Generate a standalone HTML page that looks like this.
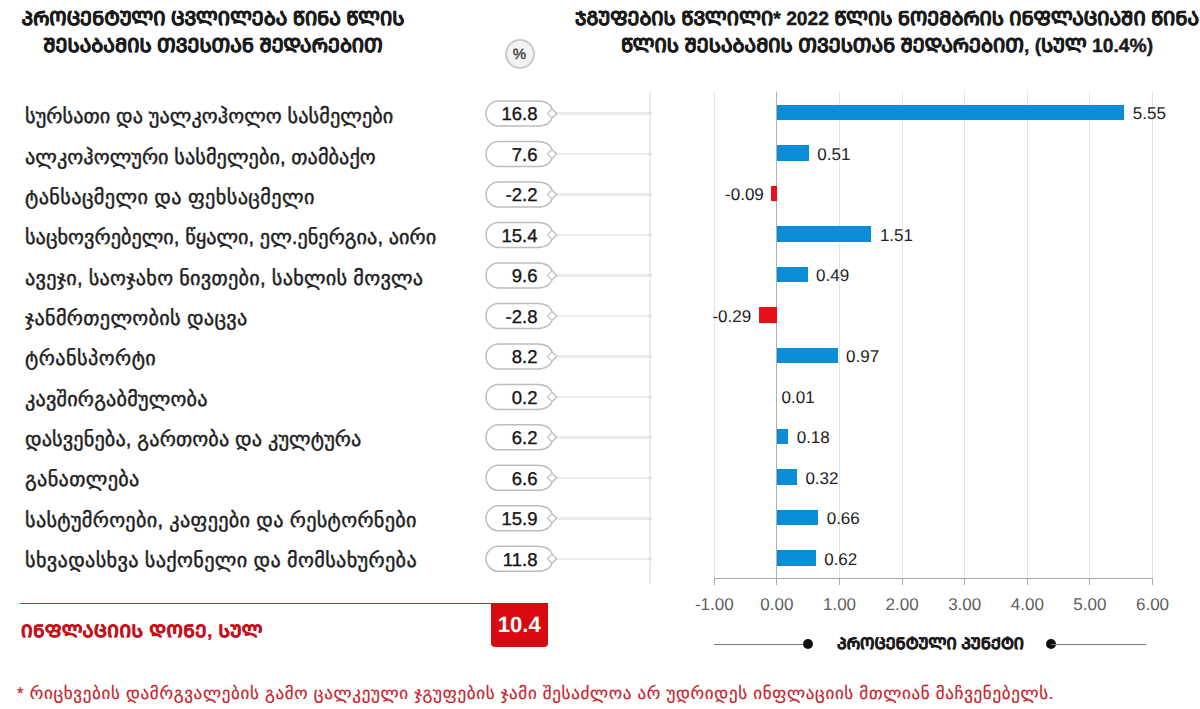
<!DOCTYPE html>
<html><head><meta charset="utf-8"><style>
html,body{margin:0;padding:0;background:#fff;text-rendering:geometricPrecision;width:1200px;height:709px;overflow:hidden;position:relative;font-family:"Liberation Sans",sans-serif;color:#222}
.abs{position:absolute;white-space:nowrap}
.t{font-weight:bold;font-size:19.25px;color:#1a1a1a;-webkit-text-stroke:0.4px #1a1a1a;text-align:center;line-height:27px}
.lbl{position:absolute;left:25px;font-size:20.3px;color:#1e1e1e;-webkit-text-stroke:0.45px #1e1e1e;white-space:nowrap;line-height:24px}
.ptxt{position:absolute;font-size:18.5px;color:#151515;-webkit-text-stroke:0.35px #151515;line-height:20px;text-align:right;width:60px}
.hl{position:absolute;left:556px;width:94px;height:2.5px;background:#ececec}
.bar{position:absolute;height:15.7px;background:#0a8cd6}
.neg{background:#e8101a}
.val{position:absolute;font-size:17px;color:#222;line-height:18px;white-space:nowrap}
.grid{position:absolute;top:92px;height:487px;width:1px;background:#e4e4e4}
.tick{position:absolute;top:578px;height:7px;width:1px;background:#aaa}
.tl{position:absolute;top:595px;font-size:17px;color:#606060;width:80px;text-align:center;line-height:20px}
</style></head><body>
<div class="abs t" style="left:13px;top:6px;width:400px">ᲞᲠᲝᲪᲔᲜᲢᲣᲚᲘ ᲪᲕᲚᲘᲚᲔᲑᲐ ᲬᲘᲜᲐ ᲬᲚᲘᲡ<br>ᲨᲔᲡᲐᲑᲐᲛᲘᲡ ᲗᲕᲔᲡᲗᲐᲜ ᲨᲔᲓᲐᲠᲔᲑᲘᲗ</div>
<div class="abs t" style="left:567px;top:6px;width:640px">ᲯᲒᲣᲤᲔᲑᲘᲡ ᲬᲕᲚᲘᲚᲘ* 2022 ᲬᲚᲘᲡ ᲜᲝᲔᲛᲑᲠᲘᲡ ᲘᲜᲤᲚᲐᲪᲘᲐᲨᲘ ᲬᲘᲜᲐ<br>ᲬᲚᲘᲡ ᲨᲔᲡᲐᲑᲐᲛᲘᲡ ᲗᲕᲔᲡᲗᲐᲜ ᲨᲔᲓᲐᲠᲔᲑᲘᲗ, (ᲡᲣᲚ 10.4%)</div>
<div class="abs" style="left:504.5px;top:38.8px;width:26px;height:26px;border-radius:50%;background:#f3f3f3;border:2px solid #cacaca;font-size:15px;text-align:center;line-height:26px;color:#333"><span style="position:relative;top:1px;-webkit-text-stroke:0.3px #333">%</span></div>
<div class="grid" style="left:713.8px;"></div>
<div class="tick" style="left:713.8px"></div>
<div class="tl" style="left:674.3px">-1.00</div>
<div class="grid" style="left:776.4px;background:#b0b0b0"></div>
<div class="tick" style="left:776.4px"></div>
<div class="tl" style="left:736.9px">0.00</div>
<div class="grid" style="left:839.0px;"></div>
<div class="tick" style="left:839.0px"></div>
<div class="tl" style="left:799.5px">1.00</div>
<div class="grid" style="left:901.6px;"></div>
<div class="tick" style="left:901.6px"></div>
<div class="tl" style="left:862.1px">2.00</div>
<div class="grid" style="left:964.2px;"></div>
<div class="tick" style="left:964.2px"></div>
<div class="tl" style="left:924.7px">3.00</div>
<div class="grid" style="left:1026.8px;"></div>
<div class="tick" style="left:1026.8px"></div>
<div class="tl" style="left:987.3px">4.00</div>
<div class="grid" style="left:1089.4px;"></div>
<div class="tick" style="left:1089.4px"></div>
<div class="tl" style="left:1049.9px">5.00</div>
<div class="grid" style="left:1152.0px;"></div>
<div class="tick" style="left:1152.0px"></div>
<div class="tl" style="left:1112.5px">6.00</div>
<div class="abs" style="left:714px;top:578px;width:439px;height:1px;background:#a8a8a8"></div>
<div class="abs" style="left:649px;top:92px;width:2px;height:492px;background:#ececec"></div>
<div class="hl" style="top:112.4px"></div>
<div class="hl" style="top:152.9px"></div>
<div class="hl" style="top:193.4px"></div>
<div class="hl" style="top:233.8px"></div>
<div class="hl" style="top:274.3px"></div>
<div class="hl" style="top:314.8px"></div>
<div class="hl" style="top:355.3px"></div>
<div class="hl" style="top:395.8px"></div>
<div class="hl" style="top:436.2px"></div>
<div class="hl" style="top:476.7px"></div>
<div class="hl" style="top:517.2px"></div>
<div class="hl" style="top:557.7px"></div>
<svg class="abs" style="left:0;top:0" width="1200" height="709"><path d="M498.5 101.0 H538 C547 101.0 551 105.5 552 109.0 L556.5 113.5 L552 118.0 C551 121.5 547 126.0 538 126.0 H498.5 A12.5 12.5 0 0 1 498.5 101.0 Z" fill="#fff" stroke="#bdbdbd" stroke-width="1.5"/><path d="M547.5 113.5 L552 109.0 L556.5 113.5 L552 118.0 Z" fill="#fff" stroke="#c4c4c4" stroke-width="1.3"/><rect x="648.5" y="112.0" width="3" height="3" fill="#dedede"/><path d="M498.5 141.5 H538 C547 141.5 551 146.0 552 149.5 L556.5 154.0 L552 158.5 C551 162.0 547 166.5 538 166.5 H498.5 A12.5 12.5 0 0 1 498.5 141.5 Z" fill="#fff" stroke="#bdbdbd" stroke-width="1.5"/><path d="M547.5 154.0 L552 149.5 L556.5 154.0 L552 158.5 Z" fill="#fff" stroke="#c4c4c4" stroke-width="1.3"/><rect x="648.5" y="152.5" width="3" height="3" fill="#dedede"/><path d="M498.5 182.0 H538 C547 182.0 551 186.5 552 190.0 L556.5 194.5 L552 199.0 C551 202.5 547 207.0 538 207.0 H498.5 A12.5 12.5 0 0 1 498.5 182.0 Z" fill="#fff" stroke="#bdbdbd" stroke-width="1.5"/><path d="M547.5 194.5 L552 190.0 L556.5 194.5 L552 199.0 Z" fill="#fff" stroke="#c4c4c4" stroke-width="1.3"/><rect x="648.5" y="193.0" width="3" height="3" fill="#dedede"/><path d="M498.5 222.4 H538 C547 222.4 551 226.9 552 230.4 L556.5 234.9 L552 239.4 C551 242.9 547 247.4 538 247.4 H498.5 A12.5 12.5 0 0 1 498.5 222.4 Z" fill="#fff" stroke="#bdbdbd" stroke-width="1.5"/><path d="M547.5 234.9 L552 230.4 L556.5 234.9 L552 239.4 Z" fill="#fff" stroke="#c4c4c4" stroke-width="1.3"/><rect x="648.5" y="233.4" width="3" height="3" fill="#dedede"/><path d="M498.5 262.9 H538 C547 262.9 551 267.4 552 270.9 L556.5 275.4 L552 279.9 C551 283.4 547 287.9 538 287.9 H498.5 A12.5 12.5 0 0 1 498.5 262.9 Z" fill="#fff" stroke="#bdbdbd" stroke-width="1.5"/><path d="M547.5 275.4 L552 270.9 L556.5 275.4 L552 279.9 Z" fill="#fff" stroke="#c4c4c4" stroke-width="1.3"/><rect x="648.5" y="273.9" width="3" height="3" fill="#dedede"/><path d="M498.5 303.4 H538 C547 303.4 551 307.9 552 311.4 L556.5 315.9 L552 320.4 C551 323.9 547 328.4 538 328.4 H498.5 A12.5 12.5 0 0 1 498.5 303.4 Z" fill="#fff" stroke="#bdbdbd" stroke-width="1.5"/><path d="M547.5 315.9 L552 311.4 L556.5 315.9 L552 320.4 Z" fill="#fff" stroke="#c4c4c4" stroke-width="1.3"/><rect x="648.5" y="314.4" width="3" height="3" fill="#dedede"/><path d="M498.5 343.9 H538 C547 343.9 551 348.4 552 351.9 L556.5 356.4 L552 360.9 C551 364.4 547 368.9 538 368.9 H498.5 A12.5 12.5 0 0 1 498.5 343.9 Z" fill="#fff" stroke="#bdbdbd" stroke-width="1.5"/><path d="M547.5 356.4 L552 351.9 L556.5 356.4 L552 360.9 Z" fill="#fff" stroke="#c4c4c4" stroke-width="1.3"/><rect x="648.5" y="354.9" width="3" height="3" fill="#dedede"/><path d="M498.5 384.4 H538 C547 384.4 551 388.9 552 392.4 L556.5 396.9 L552 401.4 C551 404.9 547 409.4 538 409.4 H498.5 A12.5 12.5 0 0 1 498.5 384.4 Z" fill="#fff" stroke="#bdbdbd" stroke-width="1.5"/><path d="M547.5 396.9 L552 392.4 L556.5 396.9 L552 401.4 Z" fill="#fff" stroke="#c4c4c4" stroke-width="1.3"/><rect x="648.5" y="395.4" width="3" height="3" fill="#dedede"/><path d="M498.5 424.8 H538 C547 424.8 551 429.3 552 432.8 L556.5 437.3 L552 441.8 C551 445.3 547 449.8 538 449.8 H498.5 A12.5 12.5 0 0 1 498.5 424.8 Z" fill="#fff" stroke="#bdbdbd" stroke-width="1.5"/><path d="M547.5 437.3 L552 432.8 L556.5 437.3 L552 441.8 Z" fill="#fff" stroke="#c4c4c4" stroke-width="1.3"/><rect x="648.5" y="435.8" width="3" height="3" fill="#dedede"/><path d="M498.5 465.3 H538 C547 465.3 551 469.8 552 473.3 L556.5 477.8 L552 482.3 C551 485.8 547 490.3 538 490.3 H498.5 A12.5 12.5 0 0 1 498.5 465.3 Z" fill="#fff" stroke="#bdbdbd" stroke-width="1.5"/><path d="M547.5 477.8 L552 473.3 L556.5 477.8 L552 482.3 Z" fill="#fff" stroke="#c4c4c4" stroke-width="1.3"/><rect x="648.5" y="476.3" width="3" height="3" fill="#dedede"/><path d="M498.5 505.8 H538 C547 505.8 551 510.3 552 513.8 L556.5 518.3 L552 522.8 C551 526.3 547 530.8 538 530.8 H498.5 A12.5 12.5 0 0 1 498.5 505.8 Z" fill="#fff" stroke="#bdbdbd" stroke-width="1.5"/><path d="M547.5 518.3 L552 513.8 L556.5 518.3 L552 522.8 Z" fill="#fff" stroke="#c4c4c4" stroke-width="1.3"/><rect x="648.5" y="516.8" width="3" height="3" fill="#dedede"/><path d="M498.5 546.3 H538 C547 546.3 551 550.8 552 554.3 L556.5 558.8 L552 563.3 C551 566.8 547 571.3 538 571.3 H498.5 A12.5 12.5 0 0 1 498.5 546.3 Z" fill="#fff" stroke="#bdbdbd" stroke-width="1.5"/><path d="M547.5 558.8 L552 554.3 L556.5 558.8 L552 563.3 Z" fill="#fff" stroke="#c4c4c4" stroke-width="1.3"/><rect x="648.5" y="557.3" width="3" height="3" fill="#dedede"/></svg>
<div class="lbl" style="top:105.4px;letter-spacing:0.06px">სურსათი და უალკოჰოლო სასმელები</div>
<div class="ptxt" style="left:477.5px;top:104.4px">16.8</div>
<div class="bar" style="left:776.9px;top:104.8px;width:347.4px"></div>
<div class="val" style="left:1132.8px;top:105.4px">5.55</div>
<div class="lbl" style="top:145.7px;letter-spacing:0.04px">ალკოჰოლური სასმელები, თამბაქო</div>
<div class="ptxt" style="left:477.5px;top:144.9px">7.6</div>
<div class="bar" style="left:776.9px;top:145.3px;width:31.9px"></div>
<div class="val" style="left:817.3px;top:145.9px">0.51</div>
<div class="lbl" style="top:186.1px;letter-spacing:0.37px">ტანსაცმელი და ფეხსაცმელი</div>
<div class="ptxt" style="left:477.5px;top:185.4px">-2.2</div>
<div class="bar neg" style="left:771.3px;top:185.8px;width:5.6px"></div>
<div class="val" style="right:436.2px;top:186.4px">-0.09</div>
<div class="lbl" style="top:226.4px;letter-spacing:0.01px">საცხოვრებელი, წყალი, ელ.ენერგია, აირი</div>
<div class="ptxt" style="left:477.5px;top:225.8px">15.4</div>
<div class="bar" style="left:776.9px;top:226.2px;width:94.5px"></div>
<div class="val" style="left:879.9px;top:226.8px">1.51</div>
<div class="lbl" style="top:266.7px;letter-spacing:0.25px">ავეჯი, საოჯახო ნივთები, სახლის მოვლა</div>
<div class="ptxt" style="left:477.5px;top:266.3px">9.6</div>
<div class="bar" style="left:776.9px;top:266.7px;width:30.7px"></div>
<div class="val" style="left:816.1px;top:267.3px">0.49</div>
<div class="lbl" style="top:307.0px;letter-spacing:0.29px">ჯანმრთელობის დაცვა</div>
<div class="ptxt" style="left:477.5px;top:306.8px">-2.8</div>
<div class="bar neg" style="left:758.7px;top:307.2px;width:18.2px"></div>
<div class="val" style="right:448.8px;top:307.8px">-0.29</div>
<div class="lbl" style="top:347.4px;letter-spacing:0.42px">ტრანსპორტი</div>
<div class="ptxt" style="left:477.5px;top:347.3px">8.2</div>
<div class="bar" style="left:776.9px;top:347.7px;width:60.7px"></div>
<div class="val" style="left:846.1px;top:348.3px">0.97</div>
<div class="lbl" style="top:387.7px;letter-spacing:0.16px">კავშირგაბმულობა</div>
<div class="ptxt" style="left:477.5px;top:387.8px">0.2</div>
<div class="val" style="left:781.5px;top:388.8px">0.01</div>
<div class="lbl" style="top:428.0px;letter-spacing:0.11px">დასვენება, გართობა და კულტურა</div>
<div class="ptxt" style="left:477.5px;top:428.2px">6.2</div>
<div class="bar" style="left:776.9px;top:428.6px;width:11.3px"></div>
<div class="val" style="left:796.7px;top:429.2px">0.18</div>
<div class="lbl" style="top:468.4px;letter-spacing:0.31px">განათლება</div>
<div class="ptxt" style="left:477.5px;top:468.7px">6.6</div>
<div class="bar" style="left:776.9px;top:469.1px;width:20.0px"></div>
<div class="val" style="left:805.4px;top:469.7px">0.32</div>
<div class="lbl" style="top:508.7px;letter-spacing:0.29px">სასტუმროები, კაფეები და რესტორნები</div>
<div class="ptxt" style="left:477.5px;top:509.2px">15.9</div>
<div class="bar" style="left:776.9px;top:509.6px;width:41.3px"></div>
<div class="val" style="left:826.7px;top:510.2px">0.66</div>
<div class="lbl" style="top:549.0px;letter-spacing:0.32px">სხვადასხვა საქონელი და მომსახურება</div>
<div class="ptxt" style="left:477.5px;top:549.7px">11.8</div>
<div class="bar" style="left:776.9px;top:550.1px;width:38.8px"></div>
<div class="val" style="left:824.2px;top:550.7px">0.62</div>
<div class="abs" style="left:19.5px;top:602.5px;width:528px;height:1.5px;background:#c02828"></div>
<div class="abs" style="left:491px;top:603px;width:56.5px;height:43.5px;background:#d90a0f;border-radius:0 0 4px 4px;color:#fff;font-weight:bold;font-size:22px;text-align:center;line-height:43px">10.4</div>
<div class="abs" style="left:21px;top:620px;font-weight:bold;font-size:17px;letter-spacing:0.5px;color:#c8101a;-webkit-text-stroke:0.5px #c8101a;line-height:24px;transform-origin:0 0;transform:scaleX(1.07)">ᲘᲜᲤᲚᲐᲪᲘᲘᲡ ᲓᲝᲜᲔ, ᲡᲣᲚ</div>
<div class="abs" style="left:17px;top:682px;font-size:17px;letter-spacing:0.68px;color:#c8202a;-webkit-text-stroke:0.2px #c8202a;line-height:24px">* რიცხვების დამრგვალების გამო ცალკეული ჯგუფების ჯამი შესაძლოა არ უდრიდეს ინფლაციის მთლიან მაჩვენებელს.</div>
<div class="abs" style="left:714px;top:643.5px;width:94px;height:1.5px;background:#777"></div>
<div class="abs" style="left:803.3px;top:639.2px;width:10px;height:10px;border-radius:50%;background:#111"></div>
<div class="abs t" style="left:837px;top:631px;font-size:16px;line-height:27px;text-align:left">ᲞᲠᲝᲪᲔᲜᲢᲣᲚᲘ ᲞᲣᲜᲥᲢᲘ</div>
<div class="abs" style="left:1046.4px;top:639.2px;width:10px;height:10px;border-radius:50%;background:#111"></div>
<div class="abs" style="left:1051px;top:643.5px;width:95px;height:1.5px;background:#777"></div>
</body></html>
